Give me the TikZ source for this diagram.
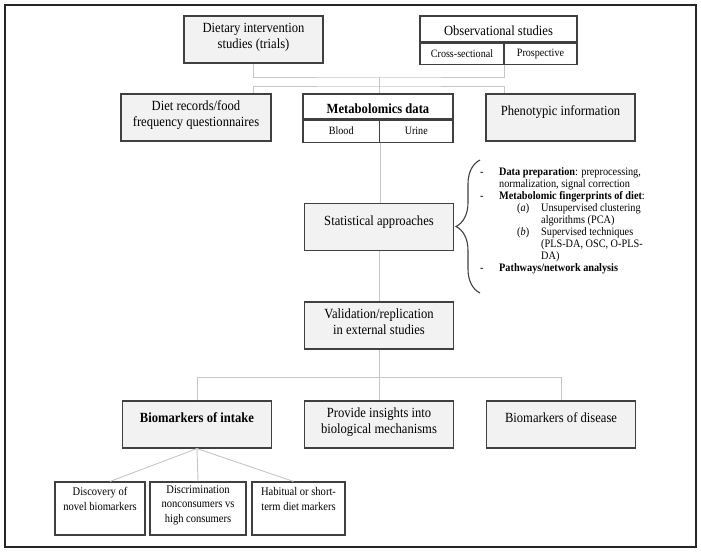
\documentclass[tikz,border=0pt]{standalone}
\usepackage{fontspec}
\setmainfont{Liberation Serif}[FakeStretch=0.9]
\usetikzlibrary{calc, positioning, decorations.pathreplacing}
\definecolor{boxgray}{HTML}{F2F2F2}
\definecolor{edgegray}{HTML}{404040}
\definecolor{linkgray}{HTML}{C6C6C6}

\begin{document}
\begin{tikzpicture} [x = 1pt, y = 1pt, node distance = 182pt,
  box/.style = {draw = edgegray, fill = boxgray, line width = 1.1pt, minimum width = 149pt, minimum height = 47pt, align = center, inner sep = 1pt, text height = 26pt, text depth = 9pt, font = \fontsize{14}{16}\selectfont},
  one/.style = {text height = 10pt, text depth = 14pt},
  part/.style = {draw = edgegray, fill = white, line width = 1.1pt, inner sep = 1pt, font = \fontsize{11.2}{13}\selectfont},
  head/.style = {part, text height = 17pt, text depth = 3.5pt, font = \fontsize{14}{16}\selectfont},
  small/.style = {draw = edgegray, fill = white, line width = 1.1pt, minimum height = 53pt, align = center, inner sep = 1pt, text height = 22.5pt, text depth = 19.5pt, font = \fontsize{11.7}{14.5}\selectfont},
  three/.style = {text height = 37pt, text depth = 10pt},
  link/.style = {linkgray, line width = 0.9pt}]

\useasboundingbox (0,0) rectangle (701,-552);
\draw [line width = 1.5pt, black!85] (5,-5) rectangle (696,-547);

% study designs
\node [box, minimum width = 139pt] (diet) at (253.5,-39.5) {Dietary intervention\\studies (trials)};
\node [head, minimum width = 157pt, minimum height = 26pt] (obs) at (498.5,-29) {Observational studies};
\node [part, minimum width = 84pt, minimum height = 21pt, anchor = north west] (cross) at (obs.south west) {Cross-sectional};
\node [part, minimum width = 73pt, minimum height = 21pt, anchor = north east] (prosp) at (obs.south east) {Prospective};

% collected data
\node [box, minimum width = 150pt] (recs) at (196,-117.5) {Diet records/food\\frequency questionnaires};
\node [head, minimum width = 150pt, minimum height = 25pt, font = \fontsize{14}{16}\selectfont\bfseries] (meta) at (378,-106.5) {Metabolomics data};
\node [part, minimum width = 76.5pt, minimum height = 22pt, anchor = north west] (blood) at (meta.south west) {Blood};
\node [part, minimum width = 73.5pt, minimum height = 22pt, anchor = north east] (urine) at (meta.south east) {Urine};
\node [box, one] (pheno) [right of = recs, node distance = 364.5pt] {Phenotypic information};

% analysis
\node [box, one] (stat) at (379,-227) {Statistical approaches};
\node [box] (valid) [below of = stat, node distance = 98.5pt] {Validation/replication\\in external studies};
\node [box] (insight) [below of = valid, node distance = 99pt] {Provide insights into\\biological mechanisms};
\node [box, one, font = \fontsize{14}{16}\selectfont\bfseries] (intake) [left of = insight] {Biomarkers of intake};
\node [box, one] (disease) [right of = insight] {Biomarkers of disease};

\node [small, three, minimum width = 96pt] (discr) at (198,-508.5) {Discrimination\\nonconsumers vs\\high consumers};
\node [small, minimum width = 90pt] (novel) [left of = discr, node distance = 98pt] {Discovery of\\novel biomarkers};
\node [small, minimum width = 93pt] (habit) [right of = discr, node distance = 100.5pt] {Habitual or short-\\term diet markers};

% connectors
\coordinate (tj) at (379,-77);
\coordinate (mj) at (379,-86);
\coordinate (bj) at ($(valid.south)!0.55!(insight.north)$);

\draw [link] (diet.south) |- (tj) -| (cross.south east);
\draw [link] (tj) -- (tj |- meta.north);
\draw [link] (recs.north -| diet.south) |- (mj) -| (pheno.north -| cross.south east);
\draw [link] (blood.south east) -- (stat.north -| blood.south east);
\draw [link] (stat.south) -- (valid.north);
\draw [link] (valid.south) -- (insight.north);
\draw [link] (intake.north) |- (bj) -| (disease.north);
\draw [link] (intake.south) edge ([xshift = 10pt] novel.north) edge (discr.north) edge ([xshift = -5pt] habit.north);

% methods list
\coordinate (bt) at (480,-160);
\coordinate (bb) at (480,-293);
\draw [edgegray, line width = 1.1pt, decorate, decoration = {brace, amplitude = 24pt}] (bb) -- (bt);

\node [anchor = base west, inner sep = 0pt, font = \fontsize{11.4}{12.1}\selectfont] (notes) at (480,-175) {%
\begin{tabular}[t]{@{}p{19pt}@{}p{18pt}@{}p{24pt}@{}l@{}}
- & \multicolumn{3}{@{}l@{}}{\textbf{Data preparation}: preprocessing,}\\
 & \multicolumn{3}{@{}l@{}}{normalization, signal correction}\\
- & \multicolumn{3}{@{}l@{}}{\textbf{Metabolomic fingerprints of diet}:}\\
 & & (\textit{a}) & Unsupervised clustering\\
 & & & algorithms (PCA)\\
 & & (\textit{b}) & Supervised techniques\\
 & & & (PLS-DA, OSC, O-PLS-\\
 & & & DA)\\
- & \multicolumn{3}{@{}l@{}}{\textbf{Pathways/network analysis}}
\end{tabular}};

\end{tikzpicture}
\end{document}
